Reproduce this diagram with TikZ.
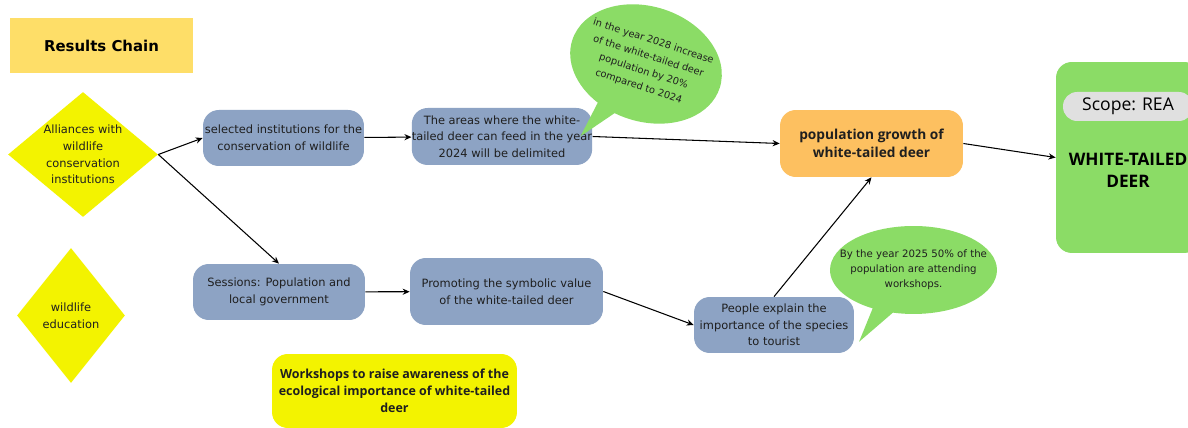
\documentclass[tikz,border=0pt]{standalone}
\usepackage{fontspec}
\setmainfont{DejaVu Sans}
\newfontfamily\headfont{Open Sans}
\usetikzlibrary{shapes.geometric, shapes.callouts, arrows.meta, positioning}

\definecolor{titlefill}{HTML}{FEDE68}
\definecolor{diamfill}{HTML}{F3F300}
\definecolor{stepfill}{HTML}{8DA3C4}
\definecolor{growthfill}{HTML}{FDC060}
\definecolor{goalfill}{HTML}{8BDC66}
\definecolor{scopefill}{HTML}{E0E0E0}

\begin{document}
\begin{tikzpicture}[
        x=0.02cm, y=-0.02cm,
        actbox/.style={rectangle, rounded corners=9pt, fill=stepfill, align=center, inner sep=0pt, text=black!88, font=\fontsize{6.5}{9.4}\selectfont},
        factor/.style={diamond, fill=diamfill, align=center, inner sep=0pt, text=black!88, font=\fontsize{6.5}{9.4}\selectfont},
        goal/.style={ellipse callout, fill=goalfill, align=center, inner ysep=0pt, text=black!88, font=\fontsize{5.8}{8.6}\selectfont},
        arrow/.style={-{Stealth[length=4pt, width=3.5pt]}, line width=0.6pt}
    ]
%
    \fill[white] (0,0) rectangle (1188,428);
    \useasboundingbox (0,0) rectangle (1188,428);
%
    % Nodes
    \node[rectangle, fill=titlefill, minimum width=3.66cm, minimum height=1.1cm, font=\fontsize{8.5}{10}\selectfont\bfseries] (title) at (101.5,45.5) {Results Chain};
    \node[factor, minimum width=3cm, minimum height=2.5cm, aspect=1.2] (alliances) at (83,154.5) {Alliances with\\wildlife\\conservation\\institutions};
    \node[factor, minimum width=2.16cm, minimum height=2.7cm, aspect=0.8] (education) at (71,315.5) {wildlife\\education};
    \node[actbox, minimum width=3.22cm, minimum height=1.12cm] (selinst) at (283.5,138) {selected institutions for the\\conservation of wildlife};
    \node[actbox, minimum width=3.44cm, minimum height=1.14cm] (areas) at (502,136.5) {The areas where the white-\\tailed deer can feed in the year\\2024 will be delimited};
    \node[actbox, minimum width=3.44cm, minimum height=1.12cm] (sessions) at (279,292) {Sessions: Population and\\local government};
    \node[actbox, minimum width=3.86cm, minimum height=1.34cm] (symbolic) at (506.5,291.5) {Promoting the symbolic value\\of the white-tailed deer};
    \node[actbox, minimum width=3.2cm, minimum height=1.12cm] (explain) at (774,325) {People explain the\\importance of the species\\to tourist};
    \node[actbox, fill=growthfill, minimum width=3.66cm, minimum height=1.34cm, font=\headfont\bfseries\fontsize{7.8}{10.4}\selectfont] (growth) at (871.5,143.5) {population growth of\\white-tailed deer};
    \node[actbox, fill=diamfill, minimum width=4.9cm, minimum height=1.48cm, font=\headfont\bfseries\fontsize{7.1}{9.6}\selectfont] (workshops) at (394.5,391) {Workshops to raise awareness of the\\ecological importance of white-tailed\\deer};
%
    % Target
    \node[rectangle, rounded corners=9pt, fill=goalfill, minimum width=2.88cm, minimum height=3.82cm] (deer) at (1128,157.5) {};
    \node[rectangle, rounded corners=8pt, fill=scopefill, minimum width=2.6cm, minimum height=0.58cm, font=\headfont\fontsize{10}{12}\selectfont] (scope) at (1128,106.5) {Scope: REA};
    \node[align=center, font=\headfont\bfseries\fontsize{9.8}{12.5}\selectfont] (deername) at (1128,170) {WHITE-TAILED\\DEER};
%
    % Goals
    \node[goal, rotate=-18, minimum width=3.1cm, minimum height=2.3cm, inner xsep=-0.4cm, font=\fontsize{5.6}{9}\selectfont, callout relative pointer={(-0.31cm,-0.69cm)}] (goalpop) at (646,64) {in the year 2028 increase\\of the white-tailed deer\\population by 20\%\\compared to 2024};
    \node[goal, minimum width=3.34cm, minimum height=1.76cm, inner xsep=-0.4cm, callout relative pointer={(-0.47cm,-0.62cm)}] (goalwork) at (913.5,270) {By the year 2025 50\% of the\\population are attending\\workshops.};
%
    % Arrows
    \draw[arrow] (alliances.east) -- (selinst.west);
    \draw[arrow] (alliances.east) -- (sessions.north);
    \draw[arrow] (selinst) -- (areas);
    \draw[arrow] (areas.east) -- (growth.west);
    \draw[arrow] (sessions) -- (symbolic);
    \draw[arrow] (symbolic.east) -- (explain.west);
    \draw[arrow] (explain.north) -- (growth.south);
    \draw[arrow] (growth.east) -- (deer.west);
%
\end{tikzpicture}
\end{document}
